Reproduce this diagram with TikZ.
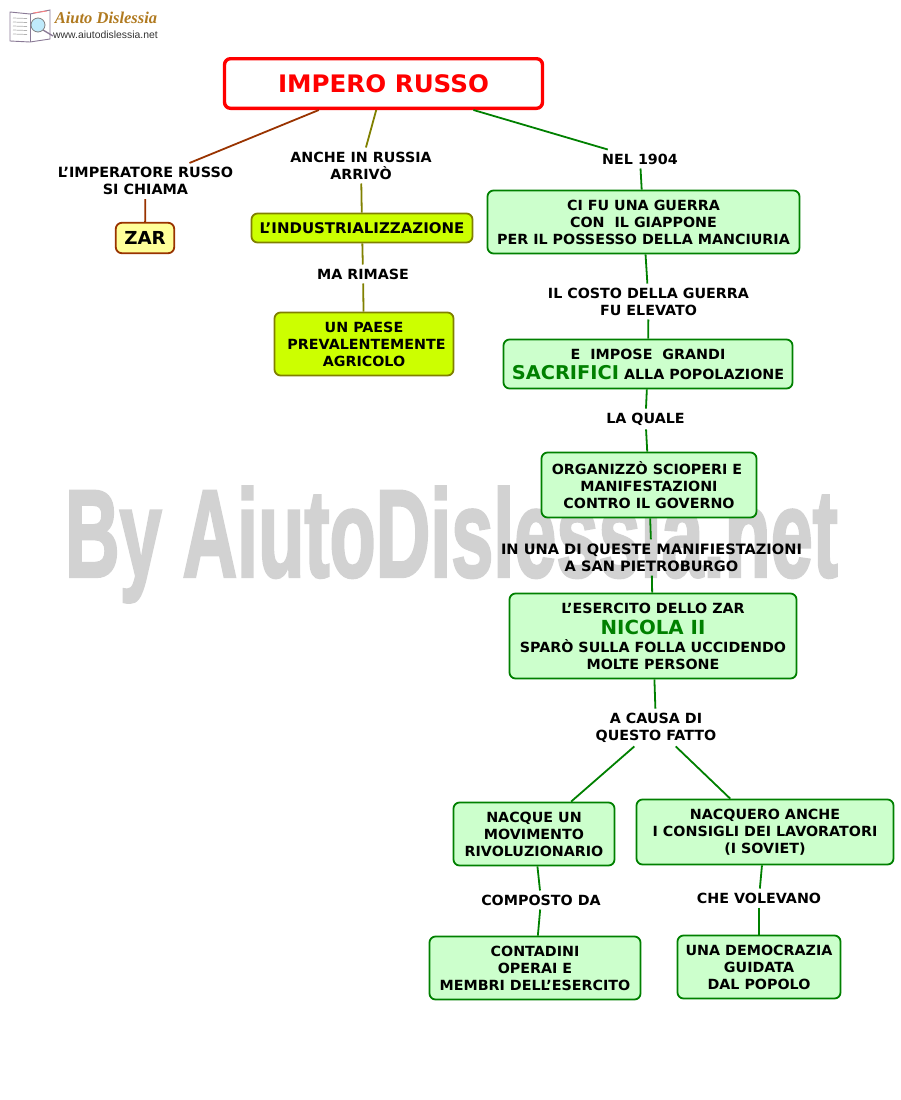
\documentclass[tikz,border=0pt]{standalone}
\usepackage{fontspec}
\usepackage{graphicx}
\setmainfont[FakeStretch=1.02]{DejaVu Sans}
\newfontfamily\logofont{Liberation Serif}
\newfontfamily\wwwfont{Liberation Sans}
\newfontfamily\wmfont[BoldFeatures={FakeBold=2.5}]{Liberation Sans}
\definecolor{gborder}{HTML}{008000}
\definecolor{gfill}{HTML}{CCFFCC}
\definecolor{oborder}{HTML}{808000}
\definecolor{ofill}{HTML}{CCFF00}
\definecolor{bborder}{HTML}{993300}
\definecolor{yfill}{HTML}{FFFF99}
\definecolor{wm}{HTML}{D2D2D2}
\definecolor{logogold}{HTML}{B07A20}
\definecolor{bookline}{HTML}{8A7A96}
\tikzset{
  x=1pt,y=-1pt,
  txt/.style={font=\fontsize{14}{17}\selectfont\bfseries,align=center,text=black},
  boxbase/.style={txt,rounded corners=6pt,line width=1.8pt,inner sep=0pt,draw},
  gbox/.style={boxbase,draw=gborder,fill=gfill},
  obox/.style={boxbase,draw=oborder,fill=ofill},
  ybox/.style={boxbase,draw=bborder,fill=yfill},
  lab/.style={txt,inner xsep=1pt,inner ysep=4pt},
  gline/.style={draw=gborder,line width=1.8pt},
  oline/.style={draw=oborder,line width=1.8pt},
  bline/.style={draw=bborder,line width=1.8pt},
}
\newcommand{\grn}[2]{{\fontsize{#1}{17}\selectfont\color{gborder}#2}}
\begin{document}
\begin{tikzpicture}
\useasboundingbox (0,0) rectangle (900,1100);
% watermark
\node[inner sep=0pt,text=wm,anchor=center] (wmark) at (451.5,544.5) {\resizebox{773pt}{90pt}{\wmfont\bfseries By AiutoDislessia.net}};
% logo
\filldraw[draw=bookline,fill=white,line width=.9pt] (10,12) -- (30,14) -- (50,10) -- (50,39) -- (30,42) -- (10,41) -- cycle;
\draw[draw=bookline,line width=.8pt] (30,14) -- (30,42);
\foreach \yy in {18,22,26,30,34}{\draw[draw=gray!60,line width=.7pt] (13,\yy) -- (27,\yy+.5);}
\draw[draw=red!50,line width=.8pt] (33,13) -- (47,11);
\draw[draw=bookline,line width=1.3pt] (43,30) -- (53,36);
\node[draw=gray,fill=cyan!25,circle,minimum size=14pt,inner sep=0pt,line width=.8pt] (logolens) at (38,25) {};
\node[inner sep=0pt,text=logogold,font=\logofont\fontsize{16.5}{16}\selectfont\bfseries\itshape] (logot) at (106,18) {Aiuto Dislessia};
\node[inner sep=0pt,text=black!80,font=\wwwfont\fontsize{10.4}{10}\selectfont] (logow) at (105.5,34.5) {www.aiutodislessia.net};
% nodes
\node[boxbase,draw=red,fill=white,line width=3.4pt,minimum width=318pt,minimum height=49.6pt,text=red,font=\fontsize{24.1}{26}\selectfont\bfseries] (root) at (383.5,83.5) {IMPERO RUSSO};
\node[ybox,minimum width=58.4pt,minimum height=30.4pt,font=\fontsize{17.9}{20}\selectfont\bfseries] (zar) at (145,238) {ZAR};
\node[obox,minimum width=221pt,minimum height=29pt,font=\fontsize{14.7}{17}\selectfont\bfseries] (ind) at (362,228) {L'INDUSTRIALIZZAZIONE};
\node[obox,minimum width=179pt,minimum height=63pt] (paese) at (364,344) {UN PAESE\\\hspace*{5pt}PREVALENTEMENTE\\AGRICOLO};
\node[gbox,minimum width=312pt,minimum height=63pt] (guerra) at (643.5,222) {CI FU UNA GUERRA\\CON\ \ IL GIAPPONE\\PER IL POSSESSO DELLA MANCIURIA};
\node[gbox,minimum width=289pt,minimum height=49pt] (sacr) at (648,364) {E\ \ IMPOSE\ \ GRANDI\\[3pt]\grn{19}{SACRIFICI} ALLA POPOLAZIONE};
\node[gbox,minimum width=215pt,minimum height=65pt] (org) at (649,485) {ORGANIZZÒ SCIOPERI E\hspace*{4pt}\\MANIFESTAZIONI\\CONTRO IL GOVERNO};
\node[gbox,minimum width=287pt,minimum height=85pt] (nic) at (653,636) {L’ESERCITO DELLO ZAR\\[4pt]\grn{19.4}{NICOLA II}\\[1pt]SPARÒ SULLA FOLLA UCCIDENDO\\MOLTE PERSONE};
\node[gbox,minimum width=161pt,minimum height=63pt] (mov) at (534,834) {NACQUE UN\\MOVIMENTO\\RIVOLUZIONARIO};
\node[gbox,minimum width=257pt,minimum height=65pt] (sov) at (765,832) {NACQUERO ANCHE\\I CONSIGLI DEI LAVORATORI\\(I SOVIET)};
\node[gbox,minimum width=211pt,minimum height=63pt] (cont) at (535,968) {CONTADINI\\OPERAI E\\MEMBRI DELL’ESERCITO};
\node[gbox,minimum width=163pt,minimum height=63pt] (dem) at (759,967) {UNA DEMOCRAZIA\\GUIDATA\\DAL POPOLO};
% labels
\node[lab,font=\fontsize{14.1}{17}\selectfont\bfseries] (limp) at (145.5,181) {L'IMPERATORE RUSSO\\SI CHIAMA};
\node[lab] (anche) at (361,165.5) {ANCHE IN RUSSIA\\ARRIVÒ};
\node[lab] (ma) at (363,274) {MA RIMASE};
\node[lab] (nel) at (640,159) {NEL 1904};
\node[lab] (costo) at (648.5,301.5) {IL COSTO DELLA GUERRA\\FU ELEVATO};
\node[lab] (quale) at (645.5,419) {LA QUALE};
\node[lab,font=\fontsize{14.3}{17}\selectfont\bfseries] (una) at (651.5,557.5) {IN UNA DI QUESTE MANIFIESTAZIONI\\A SAN PIETROBURGO};
\node[lab] (causa) at (656,727.5) {A CAUSA DI\\QUESTO FATTO};
\node[lab] (comp) at (541,900) {COMPOSTO DA};
\node[lab] (vol) at (759,898) {CHE VOLEVANO};
% connectors
\draw[bline] (root) -- (limp);
\draw[bline] (limp) -- (zar);
\draw[oline] (root) -- (anche);
\draw[oline] (anche) -- (ind);
\draw[oline] (ind) -- (ma);
\draw[oline] (ma) -- (paese);
\draw[gline] (root) -- (nel);
\draw[gline] (nel) -- (guerra);
\draw[gline] (guerra) -- (costo);
\draw[gline] (costo) -- (sacr);
\draw[gline] (sacr) -- (quale);
\draw[gline] (quale) -- (org);
\draw[gline] (org) -- (una);
\draw[gline] (una) -- (nic);
\draw[gline] (nic) -- (causa);
\draw[gline] (causa) -- (mov);
\draw[gline] (causa) -- (sov);
\draw[gline] (mov) -- (comp);
\draw[gline] (comp) -- (cont);
\draw[gline] (sov) -- (vol);
\draw[gline] (vol) -- (dem);
\end{tikzpicture}
\end{document}
